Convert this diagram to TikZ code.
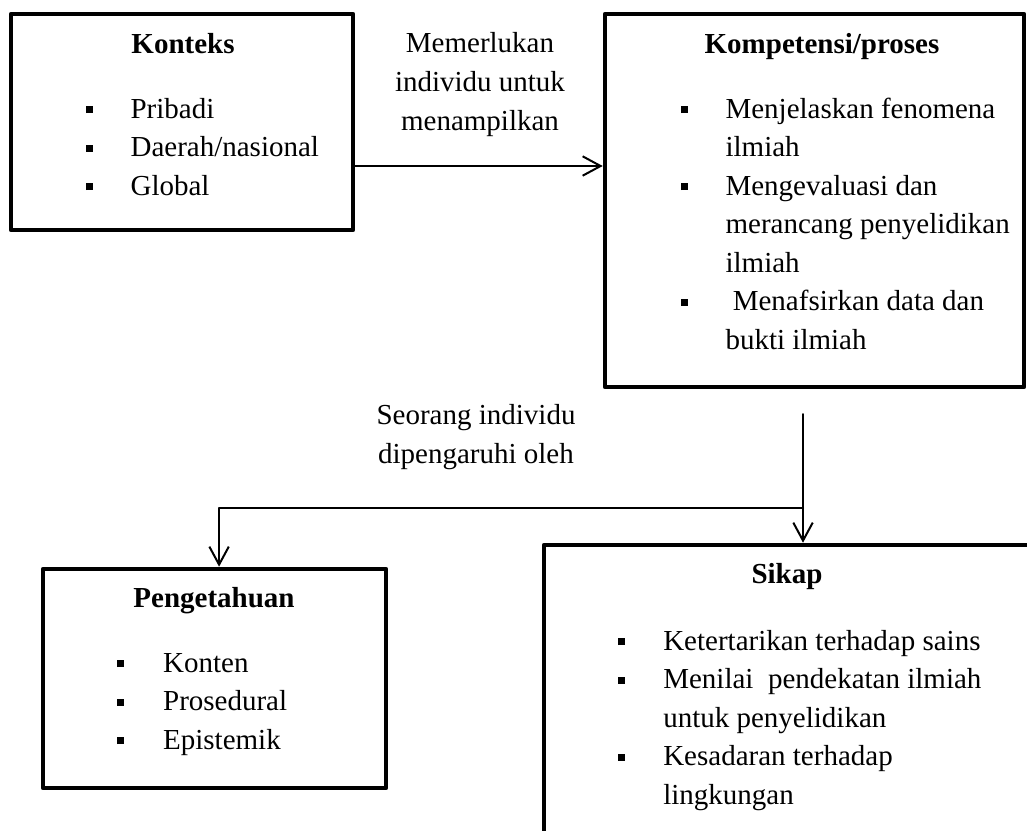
\documentclass[tikz,border=0pt]{standalone}
\usepackage{fontspec}
\setmainfont{Liberation Serif}
\usetikzlibrary{arrows.meta}
\usetikzlibrary{fit}
\newcommand{\sqbullet}{\raisebox{1.75pt}{\rule{2.45pt}{2.45pt}}}

\begin{document}
\begin{tikzpicture}[x=0.35pt,y=-0.35pt,line cap=round,line join=round,
    >={Straight Barb[length=6.3pt,width=6.8pt]},
    every node/.style={font=\fontsize{10.15pt}{13.5pt}\selectfont},
    box/.style={draw,line width=1.6pt,inner sep=0pt},
    title/.style={font=\fontsize{10.15pt}{13.5pt}\selectfont\bfseries,anchor=base},
    items/.style={anchor=base west,inner sep=0pt},
    conn/.style={line width=0.7pt,->}]
      \useasboundingbox (0,0) rectangle (1027,830);
      \clip (0,0) rectangle (1027,830);
      % boxes
      \node[box,fit={(11,14) (353,230)}] (konteks) {};
      \node[box,fit={(605,14) (1024,387)}] (kompetensi) {};
      \node[box,fit={(43,569) (386,788)}] (pengetahuan) {};
      \node[box,fit={(544,545) (1030,870)}] (sikap) {};
      % titles
      \node[title] (kontekstitle) at (183,53) {Konteks};
      \node[title] (kompetensititle) at (822,53) {Kompetensi/proses};
      \node[title] (pengetahuantitle) at (214,607) {Pengetahuan};
      \node[title] (sikaptitle) at (787,583) {Sikap};
      % lists
      \node[items] (konteksitems) at (85,118) {\begin{tabular}[t]{@{}p{15.75pt}@{}l@{}}
        \sqbullet & Pribadi\\
        \sqbullet & Daerah/nasional\\
        \sqbullet & Global
      \end{tabular}};
      \node[items] (kompetensiitems) at (680,118) {\begin{tabular}[t]{@{}p{15.75pt}@{}l@{}}
        \sqbullet & Menjelaskan fenomena\\
                  & ilmiah\\
        \sqbullet & Mengevaluasi dan\\
                  & merancang penyelidikan\\
                  & ilmiah\\
        \sqbullet & \ Menafsirkan data dan\\
                  & bukti ilmiah
      \end{tabular}};
      \node[items] (pengetahuanitems) at (116,672) {\begin{tabular}[t]{@{}p{16.3pt}@{}l@{}}
        \sqbullet & Konten\\
        \sqbullet & Prosedural\\
        \sqbullet & Epistemik
      \end{tabular}};
      \node[items] (sikapitems) at (617,650) {\begin{tabular}[t]{@{}p{16pt}@{}l@{}}
        \sqbullet & Ketertarikan terhadap sains\\
        \sqbullet & Menilai\ \ pendekatan ilmiah\\
                  & untuk penyelidikan\\
        \sqbullet & Kesadaran terhadap\\
                  & lingkungan
      \end{tabular}};
      % connectors
      \coordinate (arrowy) at (0,166);
      \draw[conn] (konteks.east |- arrowy) -- (kompetensi.west |- arrowy);
      \node[align=center,anchor=base] (needlabel) at (480,130) {Memerlukan\\individu untuk\\menampilkan};
      \coordinate (split) at (803,414);
      \coordinate (branch) at (803,508);
      \draw[conn] (split) -- (split |- sikap.north);
      \draw[conn] (branch) -| ([xshift=1.6pt]pengetahuan.north);
      \node[align=center,anchor=base] (influencelabel) at (476,463) {Seorang individu\\dipengaruhi oleh};
\end{tikzpicture}
\end{document}
